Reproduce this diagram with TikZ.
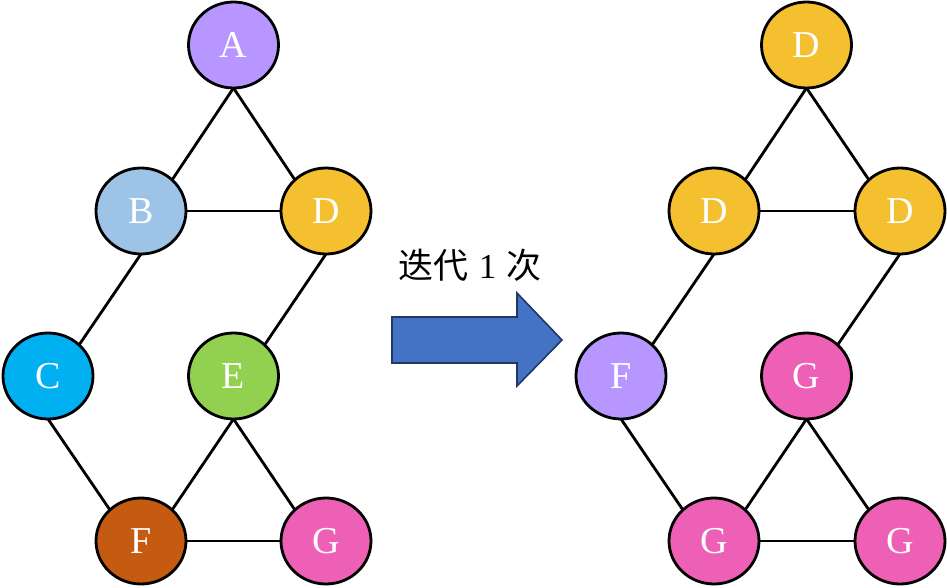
\documentclass[tikz,border=0pt]{standalone}
\usepackage{fontspec}
\setmainfont{Liberation Serif}
\newfontfamily\cjk{Noto Sans CJK SC}
\usetikzlibrary{shapes.geometric}
\definecolor{cA}{HTML}{B797FF}
\definecolor{cB}{HTML}{9DC3E6}
\definecolor{cC}{HTML}{00B0F0}
\definecolor{cD}{HTML}{F4C030}
\definecolor{cE}{HTML}{92D050}
\definecolor{cF}{HTML}{C55A11}
\definecolor{cG}{HTML}{EE5FB6}
\definecolor{arrfill}{HTML}{4472C4}
\definecolor{arrline}{HTML}{1F3864}
\begin{document}
\begin{tikzpicture}[x=1pt,y=-1pt,
  vtx/.style={ellipse, draw=black, line width=2.8pt, minimum width=90pt, minimum height=86pt,
    inner sep=0pt, outer sep=0pt, text=white, font=\fontsize{38}{40}\selectfont},
  edge/.style={line width=2.8pt, draw=black},
  bigarrow/.style={fill=arrfill, draw=arrline, line width=1.6pt, line join=miter}]
\useasboundingbox (0,0) rectangle (947,588);
% left graph
\node[vtx, fill=cA] (A) at (233.5,45) {A};
\node[vtx, fill=cB] (B) at (141,211) {B};
\node[vtx, fill=cD] (D) at (326,211) {D};
\node[vtx, fill=cC] (C) at (48,376) {C};
\node[vtx, fill=cE] (E) at (233.5,376) {E};
\node[vtx, fill=cF] (F) at (141,541) {F};
\node[vtx, fill=cG] (G) at (326,541) {G};
\draw[edge] (A.south) -- (B.45);
\draw[edge] (A.south) -- (D.135);
\draw[edge] (B.east) -- (D.west);
\draw[edge] (B.south) -- (C.45);
\draw[edge] (D.south) -- (E.45);
\draw[edge] (C.south) -- (F.135);
\draw[edge] (E.south) -- (F.45);
\draw[edge] (E.south) -- (G.135);
\draw[edge] (F.east) -- (G.west);
% arrow
\node[font=\fontsize{35}{37}\selectfont, anchor=center, inner sep=0pt] (lbl) at (470,265) {{\cjk 迭代}\hspace{0.3em}1\hspace{0.3em}{\cjk 次}};
\path[bigarrow] (392,317) coordinate (t1) -- (517,317) -- (517,293) -- (562,340) coordinate (tip) -- (517,386) -- (517,363) -- (392,363) -- cycle;
% right graph
\node[vtx, fill=cD] (rA) at (806.5,45) {D};
\node[vtx, fill=cD] (rB) at (714,211) {D};
\node[vtx, fill=cD] (rD) at (900,211) {D};
\node[vtx, fill=cA] (rC) at (621,376) {F};
\node[vtx, fill=cG] (rE) at (806.5,376) {G};
\node[vtx, fill=cG] (rF) at (714,541) {G};
\node[vtx, fill=cG] (rG) at (900,541) {G};
\draw[edge] (rA.south) -- (rB.45);
\draw[edge] (rA.south) -- (rD.135);
\draw[edge] (rB.east) -- (rD.west);
\draw[edge] (rB.south) -- (rC.45);
\draw[edge] (rD.south) -- (rE.45);
\draw[edge] (rC.south) -- (rF.135);
\draw[edge] (rE.south) -- (rF.45);
\draw[edge] (rE.south) -- (rG.135);
\draw[edge] (rF.east) -- (rG.west);
\end{tikzpicture}
\end{document}
